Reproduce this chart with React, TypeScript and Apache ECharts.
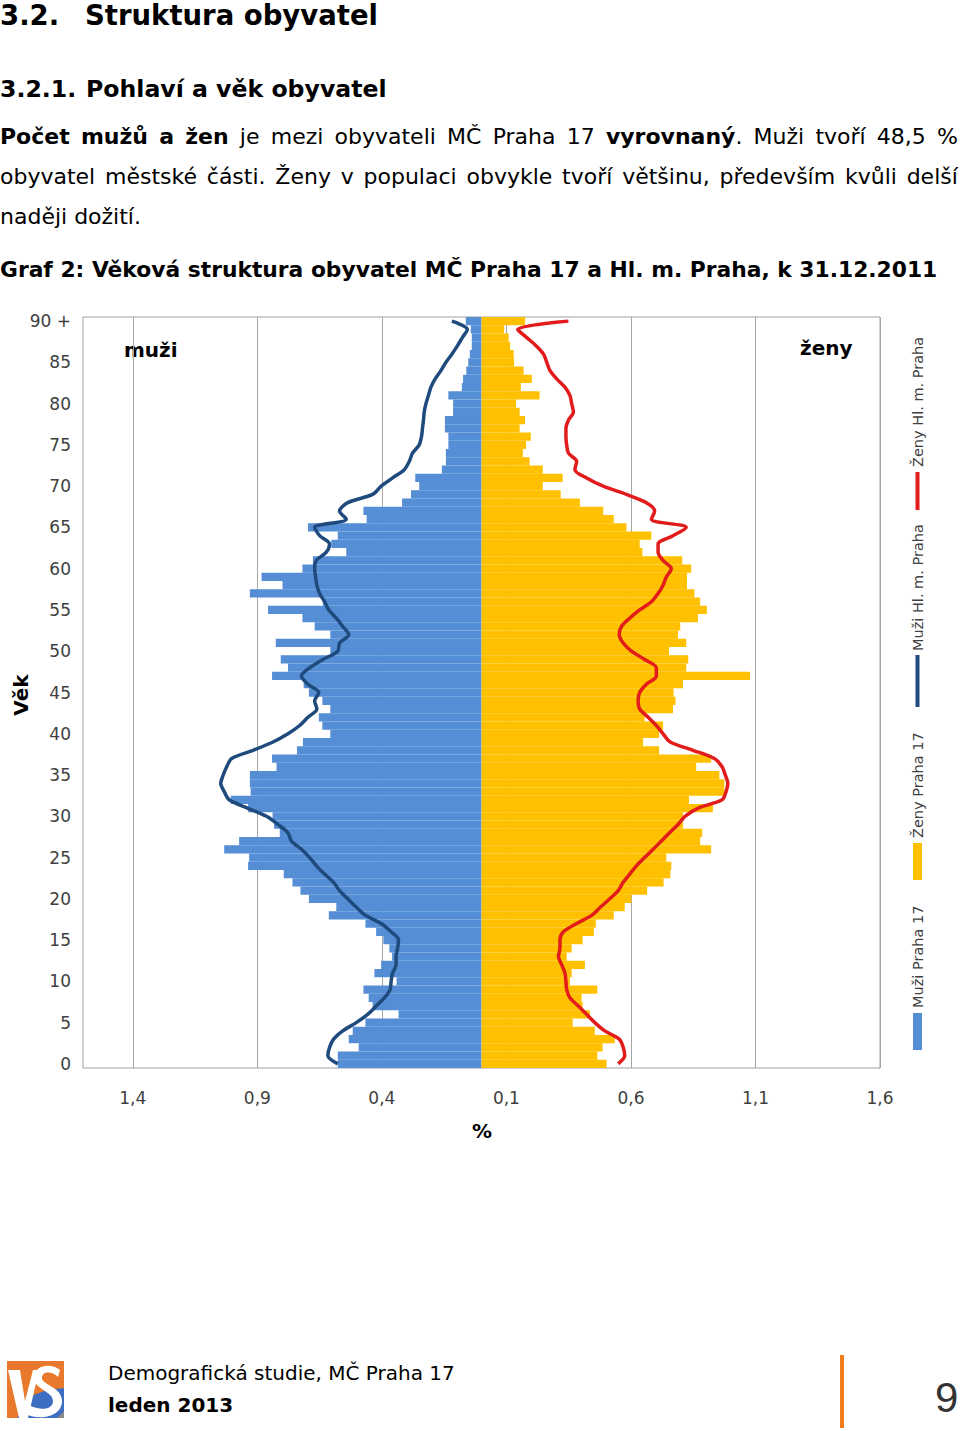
import React, { useEffect, useRef } from 'react';
import * as echarts from 'echarts';

// ---------- data ----------
const ageLabels: string[] = [
  '0','1','2','3','4','5','6','7','8','9','10','11','12','13','14','15','16','17','18','19',
  '20','21','22','23','24','25','26','27','28','29','30','31','32','33','34','35','36','37','38','39',
  '40','41','42','43','44','45','46','47','48','49','50','51','52','53','54','55','56','57','58','59',
  '60','61','62','63','64','65','66','67','68','69','70','71','72','73','74','75','76','77','78','79',
  '80','81','82','83','84','85','86','87','88','89','90 +'
];

// % of population, age 0 .. 90+
const menPraha17: number[] = [
  0.577, 0.577, 0.493, 0.533, 0.517, 0.466, 0.333, 0.437, 0.453, 0.474,
  0.341, 0.430, 0.403, 0.359, 0.370, 0.394, 0.423, 0.466, 0.613, 0.583,
  0.693, 0.727, 0.759, 0.794, 0.937, 0.933, 1.033, 0.973, 0.810, 0.833,
  0.839, 0.937, 1.007, 0.927, 0.930, 0.930, 0.823, 0.841, 0.741, 0.717,
  0.607, 0.639, 0.653, 0.607, 0.639, 0.693, 0.714, 0.841, 0.777, 0.806,
  0.607, 0.826, 0.607, 0.670, 0.719, 0.857, 0.637, 0.930, 0.799, 0.883,
  0.719, 0.677, 0.543, 0.603, 0.577, 0.697, 0.461, 0.474, 0.319, 0.283,
  0.250, 0.266, 0.159, 0.143, 0.143, 0.133, 0.133, 0.147, 0.147, 0.114,
  0.114, 0.133, 0.079, 0.074, 0.061, 0.053, 0.047, 0.039, 0.039, 0.043,
  0.063
];

const womenPraha17: number[] = [
  0.502, 0.465, 0.486, 0.535, 0.455, 0.366, 0.435, 0.406, 0.402, 0.465,
  0.355, 0.362, 0.415, 0.342, 0.362, 0.406, 0.451, 0.459, 0.531, 0.575,
  0.602, 0.665, 0.731, 0.758, 0.762, 0.742, 0.922, 0.878, 0.886, 0.809,
  0.809, 0.929, 0.833, 0.975, 0.975, 0.955, 0.862, 0.922, 0.713, 0.649,
  0.713, 0.729, 0.655, 0.769, 0.779, 0.771, 0.809, 1.078, 0.822, 0.830,
  0.753, 0.822, 0.789, 0.798, 0.869, 0.905, 0.878, 0.855, 0.825, 0.825,
  0.842, 0.806, 0.646, 0.635, 0.682, 0.582, 0.531, 0.489, 0.395, 0.318,
  0.246, 0.326, 0.246, 0.193, 0.166, 0.179, 0.198, 0.153, 0.175, 0.153,
  0.139, 0.233, 0.158, 0.202, 0.169, 0.131, 0.129, 0.115, 0.109, 0.091,
  0.175
];

const menPrahaCity: number[] = [
  0.577, 0.617, 0.610, 0.594, 0.557, 0.503, 0.457, 0.423, 0.390, 0.367,
  0.363, 0.357, 0.343, 0.343, 0.337, 0.333, 0.363, 0.403, 0.466, 0.503,
  0.537, 0.570, 0.594, 0.630, 0.663, 0.690, 0.723, 0.763, 0.777, 0.817,
  0.863, 0.940, 1.013, 1.033, 1.047, 1.037, 1.023, 1.003, 0.917, 0.837,
  0.777, 0.730, 0.697, 0.661, 0.670, 0.653, 0.697, 0.723, 0.690, 0.637,
  0.577, 0.570, 0.533, 0.557, 0.583, 0.613, 0.630, 0.650, 0.661, 0.666,
  0.670, 0.663, 0.623, 0.610, 0.650, 0.670, 0.543, 0.570, 0.537, 0.437,
  0.403, 0.357, 0.310, 0.290, 0.277, 0.250, 0.241, 0.237, 0.233, 0.230,
  0.223, 0.213, 0.203, 0.186, 0.163, 0.143, 0.119, 0.097, 0.077, 0.057,
  0.119
];

const womenPrahaCity: number[] = [
  0.549, 0.575, 0.569, 0.553, 0.495, 0.455, 0.422, 0.389, 0.355, 0.342,
  0.339, 0.335, 0.322, 0.309, 0.315, 0.315, 0.329, 0.382, 0.442, 0.478,
  0.515, 0.549, 0.569, 0.595, 0.622, 0.655, 0.689, 0.722, 0.755, 0.789,
  0.817, 0.870, 0.966, 0.982, 0.989, 0.979, 0.966, 0.935, 0.849, 0.758,
  0.729, 0.702, 0.669, 0.635, 0.629, 0.635, 0.662, 0.702, 0.702, 0.655,
  0.602, 0.569, 0.553, 0.562, 0.595, 0.635, 0.682, 0.709, 0.729, 0.742,
  0.762, 0.729, 0.709, 0.709, 0.769, 0.822, 0.682, 0.695, 0.662, 0.582,
  0.489, 0.422, 0.375, 0.382, 0.349, 0.342, 0.339, 0.339, 0.349, 0.369,
  0.362, 0.355, 0.335, 0.302, 0.275, 0.262, 0.249, 0.220, 0.182, 0.145,
  0.349
];

const xTickValues: number[] = [-1.4, -0.9, -0.4, 0.1, 0.6, 1.1, 1.6];
const seriesNames: string[] = ['Muži Praha 17', 'Ženy Praha 17', 'Muži Hl. m. Praha', 'Ženy Hl. m. Praha'];

const COLORS = {
  men: '#558ED5',
  women: '#FFC000',
  menLine: '#1F4A7D',
  womenLine: '#E21B1B',
  grid: '#A6A6A6',
  text: '#404040',
};

const FONT = '"DejaVu Sans", Verdana, sans-serif';

// logo paths (in a 57x57 box)
const LOGO_V = 'M1,9 L13,9 L18,40 L26,9 L32,9 L21,57 L12,57 Z';
const LOGO_S = 'M53,9 C45,2 28,3 27,16 C26,28 46,30 46,40 C46,49 33,50 22,44 L19,53 C32,60 55,56 55,40 C55,26 35,24 35,17 C35,10 45,10 51,16 Z';
echarts.graphic.registerShape('logoV', echarts.graphic.extendPath(LOGO_V, {}) as any);
echarts.graphic.registerShape('logoS', echarts.graphic.extendPath(LOGO_S, {}) as any);

const isTick = (v: number) => xTickValues.some((t) => Math.abs(t - v) < 1e-6);

export default function App() {
  const ref = useRef<HTMLDivElement>(null);

  useEffect(() => {
    document.body.style.margin = '0';
    const chart = echarts.init(ref.current!, null, { renderer: 'svg' });

    const xMin = -1.6;
    const xStep = 0.1;
    const nTicks = 33;
    const splitColors: string[] = [];
    for (let i = 0; i < nTicks; i++) {
      const v = Math.round((xMin + i * xStep) * 10) / 10;
      splitColors.push(isTick(v) ? COLORS.grid : 'rgba(0,0,0,0)');
    }

    const legendText = (x: number, y: number, text: string) => ({
      type: 'text',
      x,
      y,
      rotation: Math.PI / 2,
      style: { text, fill: COLORS.text, font: `14.5px ${FONT}`, align: 'left', verticalAlign: 'middle' },
    });

    const option: any = {
      animation: false,
      textStyle: { fontFamily: FONT },
      grid: {
        left: 83,
        top: 317,
        width: 797,
        height: 751,
        show: true,
        borderColor: '#A0A0A0',
        borderWidth: 1,
        backgroundColor: 'rgba(0,0,0,0)',
      },
      xAxis: {
        type: 'value',
        min: xMin,
        max: 1.6,
        interval: xStep,
        axisLine: { show: false },
        axisTick: { show: false },
        splitLine: { show: true, lineStyle: { color: splitColors, width: 1 } },
        axisLabel: {
          fontSize: 17,
          color: COLORS.text,
          margin: 21,
          fontFamily: FONT,
          formatter: (v: number) => {
            const r = Math.round(v * 10) / 10;
            return isTick(r) ? Math.abs(r).toFixed(1).replace('.', ',') : '';
          },
        },
      },
      yAxis: {
        type: 'category',
        data: ageLabels,
        axisLine: { show: false },
        axisTick: { show: false },
        splitLine: { show: false },
        axisLabel: { interval: 4, fontSize: 17, color: COLORS.text, margin: 12, fontFamily: FONT },
      },
      series: [
        {
          name: seriesNames[0],
          type: 'bar',
          data: menPraha17.map((v) => -v),
          barWidth: '100%',
          barGap: '-100%',
          barCategoryGap: 0,
          itemStyle: { color: COLORS.men },
          z: 2,
        },
        {
          name: seriesNames[1],
          type: 'bar',
          data: womenPraha17,
          barWidth: '100%',
          barGap: '-100%',
          barCategoryGap: 0,
          itemStyle: { color: COLORS.women },
          z: 2,
        },
        {
          name: seriesNames[2],
          type: 'line',
          data: menPrahaCity.map((v, i) => [-v, i]),
          symbol: 'none',
          smooth: 0.3,
          lineStyle: { color: COLORS.menLine, width: 3.5 },
          z: 3,
        },
        {
          name: seriesNames[3],
          type: 'line',
          data: womenPrahaCity.map((v, i) => [v, i]),
          symbol: 'none',
          smooth: 0.3,
          lineStyle: { color: COLORS.womenLine, width: 3.5 },
          z: 3,
        },
      ],
      graphic: [
        // in-plot labels
        { type: 'text', x: 124, y: 350, style: { text: 'muži', fill: '#000', font: `bold 20px ${FONT}`, align: 'left', verticalAlign: 'middle' } },
        { type: 'text', x: 800, y: 348, style: { text: 'ženy', fill: '#000', font: `bold 20px ${FONT}`, align: 'left', verticalAlign: 'middle' } },
        // axis titles
        { type: 'text', x: 21, y: 695, rotation: Math.PI / 2, style: { text: 'Věk', fill: '#000', font: `bold 20px ${FONT}`, align: 'center', verticalAlign: 'middle' } },
        { type: 'text', x: 482, y: 1131, style: { text: '%', fill: '#000', font: `bold 20px ${FONT}`, align: 'center', verticalAlign: 'middle' } },
        // legend (vertical, rotated)
        { type: 'rect', shape: { x: 913, y: 1013, width: 9, height: 37 }, style: { fill: COLORS.men } },
        legendText(917.5, 1008, seriesNames[0]),
        { type: 'rect', shape: { x: 913, y: 843, width: 9, height: 37 }, style: { fill: COLORS.women } },
        legendText(917.5, 838, seriesNames[1]),
        { type: 'line', shape: { x1: 917.5, y1: 655, x2: 917.5, y2: 707 }, style: { stroke: COLORS.menLine, lineWidth: 4 } },
        legendText(917.5, 651, seriesNames[2]),
        { type: 'line', shape: { x1: 917.5, y1: 472, x2: 917.5, y2: 510 }, style: { stroke: COLORS.womenLine, lineWidth: 4 } },
        legendText(917.5, 467, seriesNames[3]),
        // footer logo
        {
          type: 'group',
          x: 7,
          y: 1361,
          children: [
            { type: 'rect', shape: { x: 0, y: 0, width: 57, height: 57 }, style: { fill: '#E8792C' } },
            { type: 'polygon', shape: { points: [[10, 57], [57, 57], [57, 27], [40, 29], [24, 35]] }, style: { fill: '#3C6FC2' } },
            { type: 'polygon', shape: { points: [[50, 57], [57, 50], [57, 57]] }, style: { fill: '#8A8A8A' } },
            { type: 'logoV', x: 0, y: 0, style: { fill: '#FFFFFF' } },
            { type: 'logoS', x: 0, y: 0, style: { fill: '#FFFFFF' } },
          ],
        },
        // footer orange divider
        { type: 'rect', shape: { x: 840, y: 1355, width: 4, height: 73 }, style: { fill: '#F07D1A' } },
      ],
    };

    chart.setOption(option);
    return () => chart.dispose();
  }, []);

  const abs = (top: number, fs: number, extra: React.CSSProperties = {}): React.CSSProperties => ({
    position: 'absolute',
    left: 0,
    top,
    fontSize: fs,
    lineHeight: `${fs}px`,
    whiteSpace: 'nowrap',
    ...extra,
  });

  const just: React.CSSProperties = { display: 'flex', justifyContent: 'space-between', width: 958 };

  return (
    <div style={{ position: 'absolute', left: 0, top: 0, width: 960, height: 1431, overflow: 'hidden', fontFamily: FONT, color: '#000', background: '#fff' }}>
      <div ref={ref} style={{ position: 'absolute', left: 0, top: 0, width: 960, height: 1431 }} />

      <div style={abs(2.3, 27.5, { fontWeight: 'bold' })}>3.2.</div>
      <div style={abs(2.3, 27.5, { fontWeight: 'bold', left: 85 })}>Struktura obyvatel</div>

      <div style={abs(78, 23.6, { fontWeight: 'bold' })}>3.2.1.</div>
      <div style={abs(78, 23.6, { fontWeight: 'bold', left: 86 })}>Pohlaví a věk obyvatel</div>

      <div style={abs(126.4, 22, just)}>
        <b>Počet</b><b>mužů</b><b>a</b><b>žen</b><span>je</span><span>mezi</span><span>obyvateli</span>
        <span>MČ</span><span>Praha</span><span>17</span><span><b>vyrovnaný</b>.</span><span>Muži</span>
        <span>tvoří</span><span>48,5</span><span>%</span>
      </div>
      <div style={abs(166.4, 22, just)}>
        <span>obyvatel</span><span>městské</span><span>části.</span><span>Ženy</span><span>v</span><span>populaci</span>
        <span>obvykle</span><span>tvoří</span><span>většinu,</span><span>především</span><span>kvůli</span><span>delší</span>
      </div>
      <div style={abs(206.4, 22)}>naději dožití.</div>

      <div style={abs(258.6, 21.8, { fontWeight: 'bold' })}>
        Graf 2: Věková struktura obyvatel MČ Praha 17 a Hl. m. Praha, k 31.12.2011
      </div>

      <div style={abs(1363, 20, { left: 108 })}>Demografická studie, MČ Praha 17</div>
      <div style={abs(1395, 20, { left: 108, fontWeight: 'bold' })}>leden 2013</div>
      <div style={abs(1377, 42, { left: 935, fontFamily: '"Liberation Sans", Arial, sans-serif', color: '#333' })}>9</div>
    </div>
  );
}
